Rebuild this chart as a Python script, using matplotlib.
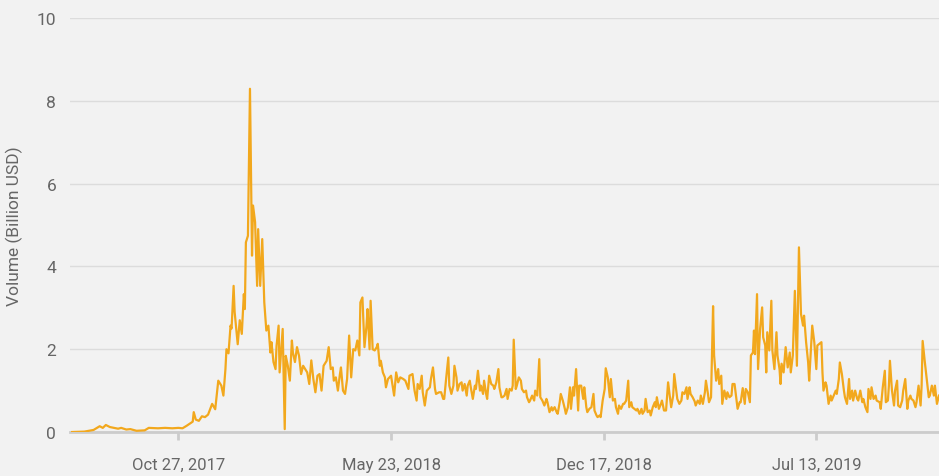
import matplotlib
matplotlib.use("Agg")
import matplotlib.pyplot as plt
import pandas as pd

plt.rcParams["font.family"] = ["Roboto", "DejaVu Sans"]

# daily volume, read at turning points; day = days after start
start = pd.Timestamp("2017-07-15")

day = [
    0, 12, 21, 27, 30, 33, 37, 45, 48, 53, 57, 63, 71, 75, 84, 91, 98, 104, 108, 112, 115, 118, 119, 121,
    124, 127, 130, 133, 137, 140, 143, 146, 148, 150, 151, 153, 155, 156, 158, 159, 162, 164, 166, 168,
    169, 170, 172, 174, 176, 177, 179, 181, 182, 184, 186, 188, 190, 192, 194, 195, 197, 199, 200, 202,
    203, 206, 208, 209, 211, 213, 215, 216, 218, 220, 222, 224, 226, 230, 232, 234, 236, 238, 240,
    242, 244, 246, 249, 251, 253, 255, 256, 258, 260, 262, 263, 265, 267, 269, 271, 273, 275, 277, 279,
    281, 282, 284, 286, 288, 289, 291, 292, 294, 296, 298, 299, 301, 302, 304, 306, 307, 309, 312, 313,
    315, 317, 319, 321, 324, 326, 329, 330, 333, 335, 337, 338, 340, 342, 343, 345, 347, 350, 351, 353,
    355, 356, 359, 361, 363,
    364, 366, 368, 369, 371, 373, 374, 376, 377, 379, 381, 382, 384, 386, 387, 389, 390, 392, 394, 395,
    397, 399, 400, 402, 403, 405, 406, 408, 410, 412, 413, 415, 417, 418, 420, 421, 423, 425, 426, 428,
    430, 431, 432, 434, 435, 437, 439, 440, 442, 444, 445, 447, 448, 450, 452, 453, 455, 457, 458, 460,
    462, 464, 465, 467, 469, 470, 472, 474, 475, 477, 478, 480, 482, 483, 485, 487,
    488, 490, 491, 493, 495, 496, 498, 500, 501, 503, 504, 506, 508, 510, 511, 513, 514, 516, 517, 519,
    521, 522, 524, 526, 527, 529, 531, 532, 534, 535, 537, 539, 540, 542, 544, 545, 547, 548, 550, 552,
    553, 555, 557, 558, 560, 561, 563, 565, 566, 568, 570, 571, 572, 574, 576, 577, 579, 581, 583, 584,
    586, 588, 589, 591, 592, 594, 596, 597, 599, 601, 602, 604, 605, 607, 609,
    610, 612, 614, 615, 617, 619, 620, 622, 623, 625, 627, 628, 630, 632, 633, 635, 636, 638, 640, 641,
    643, 645, 646, 648, 649, 651, 653, 654, 656, 658, 659, 661, 663, 664, 666, 667, 668, 670, 671, 673,
    675, 676, 678, 679, 680, 682, 684, 685, 687, 689, 690, 692, 693, 694, 696, 698, 700, 702, 703, 705,
    707, 709, 711, 713, 715, 716, 718, 720, 721, 723, 724, 726, 728, 729, 731,
    733, 734, 735, 737, 738, 740, 742, 743, 745, 747, 748, 750, 751, 753, 755, 756, 758, 760, 761, 763,
    764, 766, 768, 769, 771, 773, 774, 776, 778, 779, 781, 782, 784, 786, 787, 790, 791, 793, 795, 796,
    798, 799, 800, 802, 804, 805, 807, 808, 810, 812, 813, 815, 817, 818, 820, 821, 823, 825, 826, 828,
    830, 831, 832, 834, 836, 838, 839, 841, 843, 844, 846, 848,
]

volume = [
    0.0, 0.01, 0.05, 0.14, 0.10, 0.17, 0.12, 0.08, 0.10, 0.06, 0.07, 0.03, 0.04, 0.10, 0.09, 0.10, 0.09, 0.10, 0.09, 0.15, 0.20, 0.25, 0.48, 0.30,
    0.27, 0.38, 0.36, 0.42, 0.68, 0.55, 1.24, 1.12, 0.88, 1.52, 2.0, 1.9, 2.57, 2.5, 3.53, 2.9, 2.12, 2.7, 2.37, 3.33,
    2.97, 4.58, 4.74, 8.29, 4.26, 5.47, 5.07, 3.53, 4.9, 3.53, 4.66, 3.13, 2.45, 2.57, 1.92, 2.17, 1.69, 1.52, 2.08, 2.57,
    1.44, 2.49, 0.07, 1.84, 1.6, 1.24, 2.21, 1.92, 1.69, 2.05, 1.84, 1.4, 1.6, 1.44, 1.16, 1.73, 1.28, 0.96, 1.36,
    1.4, 1.0, 1.6, 1.72, 2.05, 1.52, 1.56, 1.24, 1.32, 1.0, 1.4, 1.56, 1.0, 0.92, 1.28, 2.33, 1.32, 2.0, 1.97, 2.21,
    1.85, 3.13, 3.25, 2.05, 2.57, 2.97, 2.0, 3.17, 2.0, 1.97, 2.05, 2.13, 1.6, 1.72, 1.44, 1.32, 1.08, 1.28, 1.36, 1.2,
    0.88, 1.44, 1.2, 1.32, 1.28, 1.24, 1.04, 1.36, 1.4, 1.0, 0.76, 1.16, 1.04, 1.36, 0.96, 0.64, 1.0, 1.08, 1.28, 1.56,
    1.04, 0.92, 0.96, 0.96, 0.8,
    0.8, 1.32, 1.8, 1.12, 0.92, 1.12, 1.6, 1.32, 1.0, 1.16, 1.2, 1.0, 1.16, 0.88, 1.12, 1.24, 1.08, 0.8, 1.12, 1.04,
    1.48, 1.0, 1.12, 0.92, 1.24, 0.92, 0.8, 1.36, 1.16, 1.12, 1.04, 1.2, 1.52, 1.08, 0.84, 0.84, 0.88, 1.04, 0.8, 1.04,
    1.0, 1.12, 2.23, 1.04, 1.12, 1.32, 1.24, 1.04, 0.96, 1.0, 0.84, 0.72, 0.76, 0.88, 0.76, 1.0, 0.88, 1.76, 0.84, 0.76,
    0.64, 0.8, 0.72, 0.48, 0.6, 0.52, 0.6, 0.48, 0.44, 0.72, 0.92, 0.76, 0.56, 0.44, 0.6, 1.08,
    0.56, 1.08, 0.88, 1.52, 0.52, 1.12, 1.12, 0.8, 1.08, 0.6, 0.48, 0.56, 0.6, 0.92, 0.52, 0.4, 0.36, 0.4, 0.36, 0.76,
    1.04, 1.54, 1.32, 0.84, 1.28, 0.76, 0.8, 0.6, 0.44, 0.64, 0.56, 0.68, 0.68, 0.76, 1.24, 0.6, 0.72, 0.6, 0.56, 0.52,
    0.56, 0.44, 0.56, 0.44, 0.52, 0.8, 0.48, 0.52, 0.4, 0.6, 0.72, 0.6, 0.84, 0.56, 0.68, 0.76, 0.52, 0.52, 1.2, 1.0,
    0.6, 0.88, 1.4, 1.0, 0.8, 0.68, 0.76, 0.96, 0.92, 1.08, 0.8, 1.08, 0.92, 0.84, 0.74,
    0.64, 0.76, 0.68, 0.88, 0.68, 0.96, 1.24, 0.92, 0.72, 0.84, 3.04, 1.85, 1.24, 1.52, 1.16, 1.36, 0.68, 1.0, 0.8, 0.96,
    0.84, 0.88, 1.16, 1.16, 0.96, 0.56, 0.72, 0.72, 1.06, 0.68, 1.04, 0.96, 0.72, 1.85, 1.92, 2.45, 1.88, 3.33, 1.52, 2.49,
    3.01, 2.29, 2.09, 1.44, 2.41, 1.97, 3.17, 1.97, 1.52, 2.41, 1.85, 1.52, 1.16, 1.65, 1.44, 2.05, 1.56, 1.92, 1.44, 1.85,
    3.41, 1.6, 4.46, 2.85, 2.57, 2.81, 2.17, 1.68, 1.24, 2.13, 2.57, 2.17, 1.52, 2.09, 2.13,
    2.17, 1.44, 1.0, 1.2, 1.12, 0.68, 0.88, 0.76, 0.88, 1.0, 0.92, 1.28, 1.68, 1.4, 1.0, 0.84, 0.68, 1.28, 0.8, 1.0,
    0.76, 1.0, 0.8, 0.76, 1.0, 0.72, 0.8, 0.6, 0.48, 1.04, 0.8, 1.08, 0.8, 0.88, 0.76, 0.72, 0.56, 1.08, 1.48, 0.72,
    0.76, 1.12, 1.72, 1.0, 0.64, 1.0, 1.24, 0.64, 0.6, 0.76, 1.0, 1.28, 0.56, 0.76, 0.88, 0.8, 0.76, 0.6, 0.72, 1.12,
    0.64, 1.12, 2.2, 1.72, 1.28, 0.84, 0.88, 1.12, 0.88, 1.12, 0.68, 0.88,
]

tick_dates = ["2017-10-27", "2018-05-23", "2018-12-17", "2019-07-13"]
tick_labels = ["Oct 27, 2017", "May 23, 2018", "Dec 17, 2018", "Jul 13, 2019"]

dates = start + pd.to_timedelta(day, unit="D")

bg = "#f2f2f2"
fig = plt.figure(figsize=(9.39, 4.77), dpi=100, facecolor=bg)
ax = fig.add_axes([0.0746, 0.0922, 0.9254, 0.868])
ax.set_facecolor(bg)

ax.plot(dates, volume, color="#f2a81d", lw=1.6, zorder=3)

ax.set_ylim(0, 10)
ax.set_yticks([0, 2, 4, 6, 8, 10])
ax.set_xlim(start - pd.Timedelta(days=2), dates[-1])
ax.set_xticks(pd.to_datetime(tick_dates))
ax.set_xticklabels(tick_labels)

ax.grid(axis="y", color="#dcdcdc", lw=1)
ax.set_axisbelow(True)
for s in ["top", "right", "left"]:
    ax.spines[s].set_visible(False)
ax.spines["bottom"].set_color("#cccccc")
ax.spines["bottom"].set_linewidth(2)

ax.tick_params(axis="y", length=0, pad=10, labelsize=12.5, labelcolor="#666666")
ax.tick_params(axis="x", length=6, width=2, color="#cccccc", pad=12,
               labelsize=12, labelcolor="#666666")
ax.set_ylabel("Volume (Billion USD)", fontsize=12.5, color="#666666", labelpad=10)

fig.savefig("out.png", dpi=100, facecolor=bg)
